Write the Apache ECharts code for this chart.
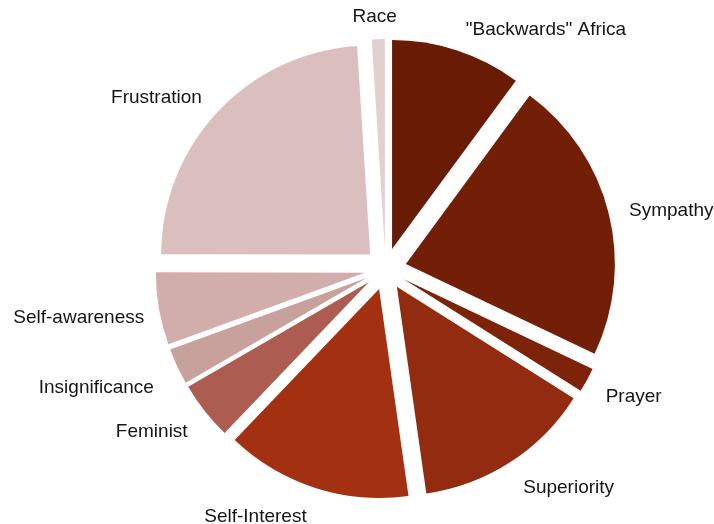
<!DOCTYPE html>
<html>
<head>
<meta charset="utf-8">
<script src="https://cdn.jsdelivr.net/npm/echarts@6/dist/echarts.min.js"></script>
<style>
  html, body { margin: 0; padding: 0; background: #ffffff; }
  #chart { width: 714px; height: 524px; }
</style>
</head>
<body>
<div id="chart"></div>
<script>
// Themes, clockwise from twelve o'clock
const categories = ['"Backwards" Africa', 'Sympathy', 'Prayer', 'Superiority', 'Self-Interest',
  'Feminist', 'Insignificance', 'Self-awareness', 'Frustration', 'Race'];
// Share of responses (%)
const shares = [10.1, 22.0, 1.9, 13.8, 14.4, 4.5, 2.8, 5.6, 24.0, 1.0];
const sliceColors = ['#6a1b05', '#731f07', '#7d2309', '#922b10', '#a33111',
  '#ad5c52', '#c9a19c', '#d1aeab', '#dbbfbf', '#e2cfcf'];

const PIE_CX = 385.5;
const PIE_CY = 269;

const chart = echarts.init(document.getElementById('chart'), null, { renderer: 'canvas' });

const data = categories.map((name, i) => ({
  name: name,
  value: shares[i],
  selected: true,
  itemStyle: { color: sliceColors[i] }
}));

chart.setOption({
  animation: false,
  backgroundColor: '#ffffff',
  series: [{
    type: 'pie',
    center: [PIE_CX, PIE_CY],
    radius: 209,
    startAngle: 90,
    clockwise: true,
    selectedMode: 'multiple',
    selectedOffset: 21,
    avoidLabelOverlap: true,
    data: data,
    itemStyle: { borderWidth: 0 },
    select: { itemStyle: { borderWidth: 0 } },
    emphasis: { disabled: true },
    label: {
      show: true,
      position: 'outside',
      color: '#151515',
      fontFamily: 'Liberation Sans, Arial, Helvetica, sans-serif',
      fontSize: 19,
      distanceToLabelLine: 3
    },
    labelLine: { show: false, length: 18, length2: 0 },
    labelLayout: function (params) {
      const r = params.labelRect;
      const relY = r.y + r.height / 2 - PIE_CY;
      // spread labels a little further apart vertically
      const out = { dy: 4 + 0.035 * relY };
      // the label of the thin slice at the top sits centred over it
      if (params.dataIndex === categories.length - 1) {
        out.align = 'center';
      }
      // keep the two small left-hand labels clear of each other
      if (params.dataIndex === 6) {
        out.dy += 6;
        out.dx = -4;
      }
      if (params.dataIndex === 7) {
        out.dx = 6;
      }
      return out;
    }
  }]
});
</script>
</body>
</html>
